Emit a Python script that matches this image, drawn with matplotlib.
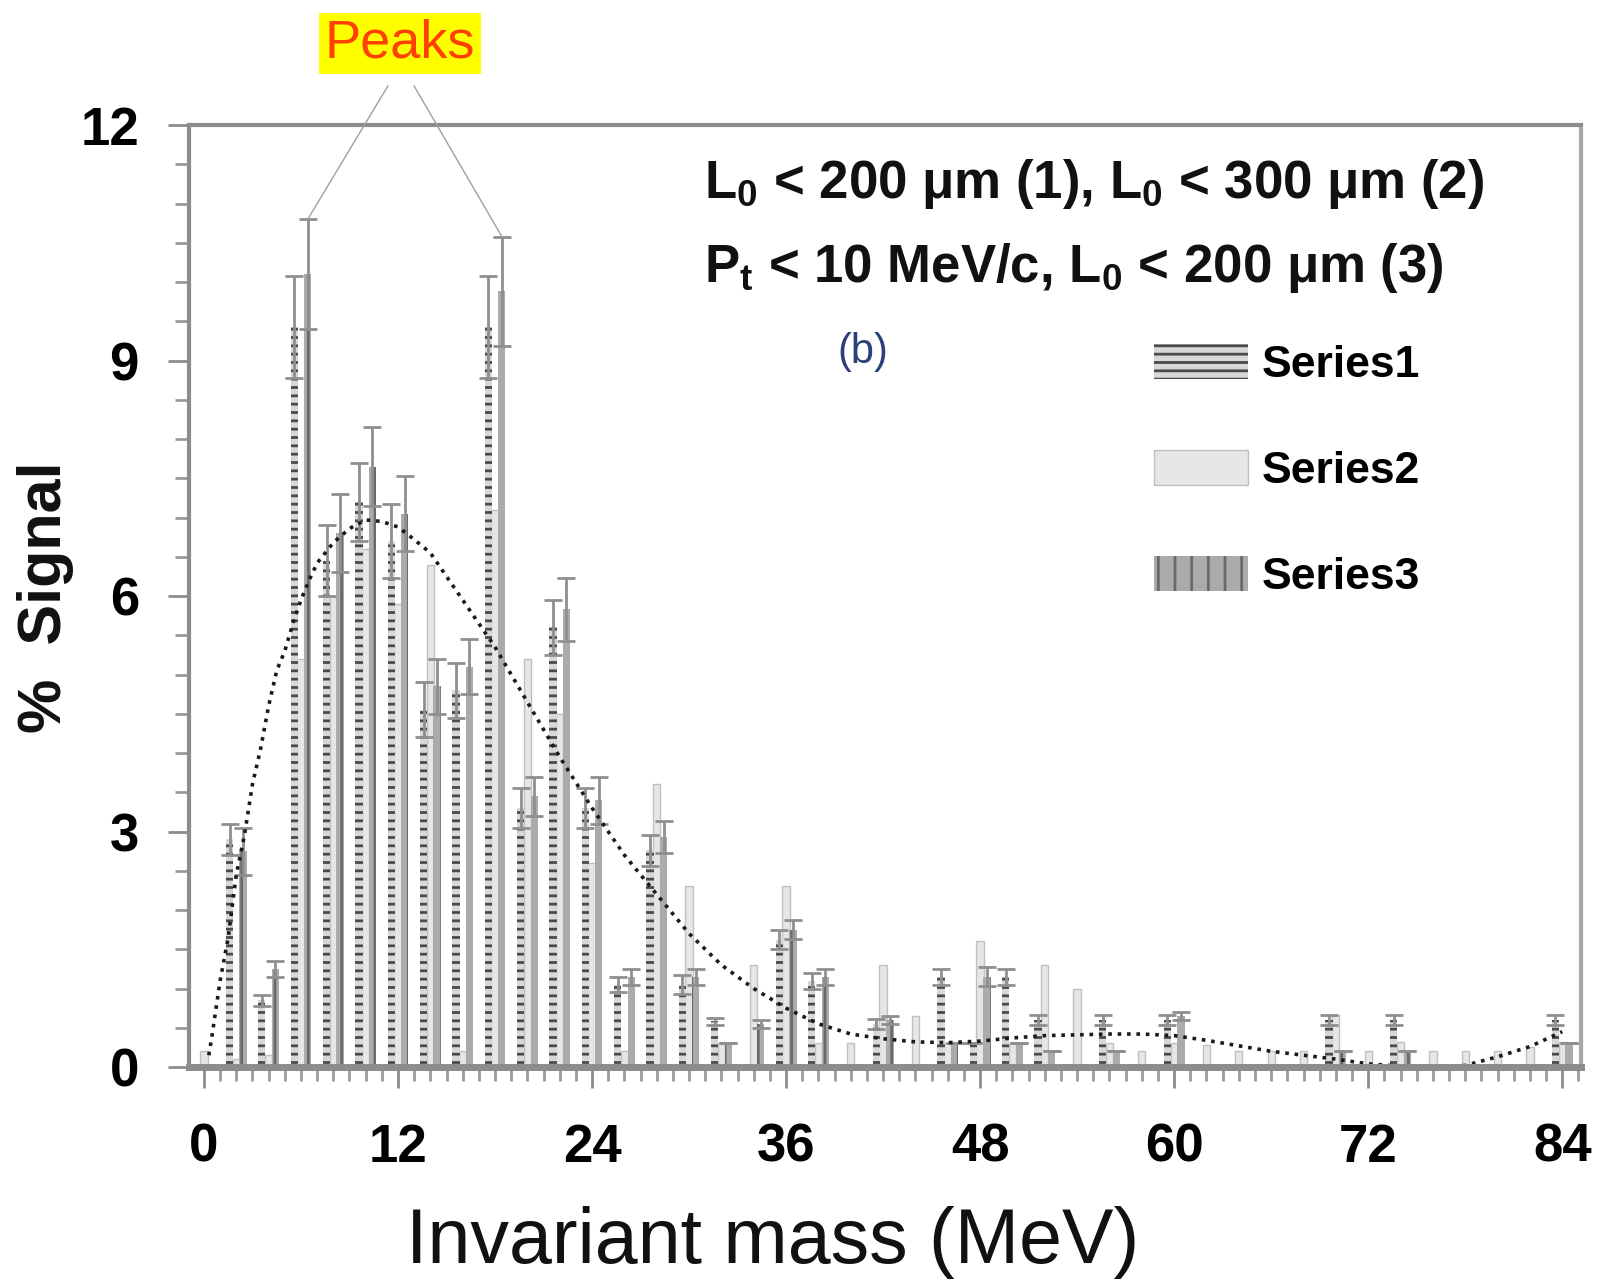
import matplotlib
matplotlib.use("Agg")
import matplotlib.pyplot as plt
from matplotlib.ticker import MultipleLocator

plt.rcParams['font.family'] = ['Liberation Sans', 'DejaVu Sans']
plt.rcParams['mathtext.fontset'] = 'custom'
plt.rcParams['mathtext.rm'] = 'Liberation Sans:bold'
plt.rcParams['mathtext.default'] = 'rm'
plt.rcParams['hatch.linewidth'] = 2.0

# ---------------- data ----------------
mass_bins = [0, 2, 4, 6, 8, 10, 12, 14, 16, 18, 20, 22, 24, 26, 28, 30, 32, 34, 36, 38, 40, 42,
             44, 46, 48, 50, 52, 54, 56, 58, 60, 62, 64, 66, 68, 70, 72, 74, 76, 78, 80, 82, 84]

series1 = [0, 2.9, 0.85, 9.43, 6.45, 7.2, 6.7, 4.55, 4.8, 9.43, 3.3, 5.6, 3.3, 1.05, 2.76, 1.05, 0.58, 0, 1.62, 1.1, 0, 0.55,
           0, 1.15, 0.3, 1.15, 0.6, 0, 0.6, 0, 0.6, 0, 0, 0, 0, 0.6, 0, 0.6, 0, 0, 0, 0, 0.6]
series1_err = [0, 0.2, 0.07, 0.65, 0.45, 0.5, 0.47, 0.35, 0.35, 0.65, 0.25, 0.35, 0.25, 0.1, 0.2, 0.12, 0.05, 0, 0.12, 0.1, 0, 0.06,
               0, 0.1, 0, 0.1, 0.06, 0, 0.06, 0, 0.06, 0, 0, 0, 0, 0.06, 0, 0.06, 0, 0, 0, 0, 0.06]

series2 = [0.2, 0.1, 0.15, 5.2, 6.0, 6.6, 5.9, 6.4, 0.2, 7.1, 5.2, 4.5, 2.6, 0.2, 3.6, 2.3, 0.3, 1.3, 2.3, 0.3, 0.3, 1.3,
           0.65, 0.3, 1.6, 0.3, 1.3, 1.0, 0.3, 0.2, 0.3, 0.28, 0.2, 0.2, 0.2, 0.66, 0.2, 0.32, 0.2, 0.2, 0.2, 0.25, 0.32]

series3 = [0, 2.75, 1.25, 10.1, 6.8, 7.65, 7.05, 4.85, 5.1, 9.88, 3.45, 5.83, 3.4, 1.15, 2.93, 1.15, 0.3, 0.55, 1.75, 1.15, 0, 0.6,
           0, 0.3, 1.15, 0.3, 0.2, 0, 0.2, 0, 0.65, 0, 0, 0, 0, 0.2, 0, 0.2, 0, 0, 0, 0, 0.3]
series3_err = [0, 0.3, 0.1, 0.7, 0.5, 0.5, 0.48, 0.35, 0.35, 0.7, 0.25, 0.4, 0.3, 0.1, 0.2, 0.1, 0, 0.05, 0.12, 0.1, 0, 0.05,
               0, 0, 0.12, 0, 0, 0, 0, 0, 0.05, 0, 0, 0, 0, 0, 0, 0, 0, 0, 0, 0, 0]

fit_x = [0.3, 0.5, 1, 1.5, 2, 2.5, 3, 3.5, 4, 4.5, 5, 5.5, 6, 6.5, 7, 7.5, 8, 9, 10, 11, 12, 13, 14, 15, 16, 17, 18, 19, 20,
         22, 24, 26, 28, 30, 32, 34, 36, 38, 40, 42, 44, 46, 48, 50, 52, 54, 56, 58, 60, 62, 64, 66, 68, 70, 72, 74, 76,
         78, 80, 82, 84]
fit_y = [0.15, 0.4, 1.1, 1.65, 2.45, 2.95, 3.6, 4.05, 4.6, 5.05, 5.3, 5.65, 5.95, 6.2, 6.42, 6.55, 6.68, 6.86, 6.97, 6.95,
         6.88, 6.72, 6.55, 6.25, 5.95, 5.65, 5.35, 5.0, 4.65, 3.95, 3.3, 2.7, 2.2, 1.7, 1.3, 1.0, 0.75, 0.55, 0.42, 0.36,
         0.32, 0.31, 0.33, 0.37, 0.4, 0.41, 0.42, 0.42, 0.4, 0.34, 0.27, 0.2, 0.15, 0.1, 0.04, 0.01, 0.0, 0.02, 0.13,
         0.26, 0.45]

series_names = ["Series1", "Series2", "Series3"]
x_tick_values = [0, 12, 24, 36, 48, 60, 72, 84]
y_tick_values = [0, 3, 6, 9, 12]

# ---------------- figure ----------------
fig = plt.figure(figsize=(16.01, 12.8), dpi=100)
ax = fig.add_axes([0.118, 0.1664, 0.8695, 0.7359])

off = 0.42
w = 0.45
x1 = [m - off for m in mass_bins]
x3 = [m + off for m in mass_bins]

b2 = ax.bar(mass_bins, series2, width=w, color='#e6e6e6', edgecolor='#c0c0c0', linewidth=1.0,
            zorder=1, label=series_names[1])
b1 = ax.bar(x1, series1, width=w, color='#d8d8d8', edgecolor='#4a4a4a', hatch='--', linewidth=0,
            zorder=2, label=series_names[0])
b3 = ax.bar(x3, series3, width=w, color='#ababab', edgecolor='#6a6a6a', hatch='|', linewidth=0,
            zorder=2, label=series_names[2])

ax.errorbar(x1, series1, yerr=series1_err, fmt='none', ecolor='#8f8f8f', elinewidth=2.0,
            capsize=6.5, capthick=2.0, zorder=3)
ax.errorbar(x3, series3, yerr=series3_err, fmt='none', ecolor='#8f8f8f', elinewidth=2.0,
            capsize=6.5, capthick=2.0, zorder=3)

ax.plot(fit_x, fit_y, linestyle=(0, (1, 1.6)), color='#1a1a1a', linewidth=2.6, zorder=4)

# ---------------- axes styling ----------------
ax.set_xlim(-0.93, 85.16)
ax.set_ylim(0, 12)
ax.set_xticks(x_tick_values)
ax.set_yticks(y_tick_values)
ax.xaxis.set_minor_locator(MultipleLocator(1))
ax.yaxis.set_minor_locator(MultipleLocator(0.5))
ax.tick_params(axis='both', which='major', direction='out', length=15, width=2, color='#8c8c8c',
               labelsize=38)
ax.tick_params(axis='both', which='minor', direction='out', length=10, width=2, color='#9a9a9a')
ax.tick_params(axis='y', which='major', pad=21)
ax.tick_params(axis='x', which='major', pad=25)
for lab in ax.get_xticklabels() + ax.get_yticklabels():
    lab.set_fontweight('bold')

for side in ['left', 'top', 'right']:
    ax.spines[side].set_color('#8c8c8c')
    ax.spines[side].set_linewidth(3)
ax.spines['right'].set_color('#a8a8a8')
ax.spines['bottom'].set_color('#8c8c8c')
ax.spines['bottom'].set_linewidth(5)
ax.spines['bottom'].set_zorder(5)

# ---------------- texts ----------------
ax.text(0.370, 0.9374, "L$_0$ < 200 μm (1), L$_0$ < 300 μm (2)", transform=ax.transAxes,
        fontsize=38, fontweight='bold', ha='left', va='center', color='#111111')
ax.text(0.370, 0.8487, "P$_t$ < 10 MeV/c, L$_0$ < 200 μm (3)", transform=ax.transAxes,
        fontsize=38, fontweight='bold', ha='left', va='center', color='#111111')
ax.text(0.4842, 0.759, "(b)", transform=ax.transAxes, fontsize=30, ha='center', va='center',
        color='#2b3f78')

leg = ax.legend(handles=[b1, b2, b3], loc='upper left', bbox_to_anchor=(0.7208, 0.731),
                bbox_transform=fig.transFigure, frameon=False,
                prop={'weight': 'bold', 'size': 32}, handlelength=2.12, handleheight=0.81,
                labelspacing=1.45, handletextpad=0.3, borderpad=0, borderaxespad=0)

fig.text(0.4828, 0.013, "Invariant mass (MeV)", fontsize=55.5, ha='center', va='baseline', color='#111111')
fig.text(0.0287, 0.5336, "%  Signal", fontsize=44, fontweight='bold', rotation=90,
         ha='center', va='center', color='#111111')

fig.text(0.2498, 0.966, "Peaks", fontsize=39, ha='center', va='center', color='#ff4000',
         bbox=dict(boxstyle='square,pad=0.1', fc='#ffff00', ec='none'))

# lines from the "Peaks" label to the two peak error caps
peak_left = (mass_bins[3] + off, series3[3] + series3_err[3])
peak_right = (mass_bins[9] + off, series3[9] + series3_err[9])
ax.annotate("", xy=peak_left, xytext=(11.38, 12.5), textcoords='data', annotation_clip=False,
            arrowprops=dict(arrowstyle='-', color='#a0a0a0', lw=1.0, shrinkA=0, shrinkB=0))
ax.annotate("", xy=peak_right, xytext=(12.99, 12.5), textcoords='data', annotation_clip=False,
            arrowprops=dict(arrowstyle='-', color='#a0a0a0', lw=1.0, shrinkA=0, shrinkB=0))

fig.savefig("out.png", dpi=100)
